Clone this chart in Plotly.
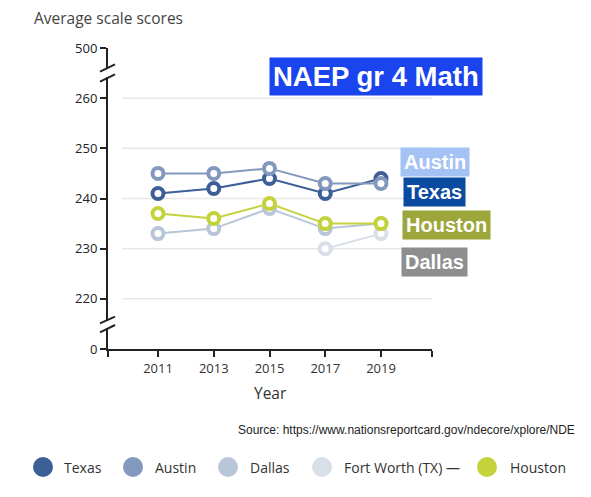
import plotly.graph_objects as go

W, H = 591, 497

years = [2011, 2013, 2015, 2017, 2019]
series_names = ["Texas", "Austin", "Dallas", "Fort Worth (TX)", "Houston"]
texas = [241, 242, 244, 241, 244]
austin = [245, 245, 246, 243, 243]
dallas = [233, 234, 238, 234, 235]
fort_worth = [None, None, None, 230, 233]
houston = [237, 236, 239, 235, 235]
colors = {"Texas": "#3d5f97", "Austin": "#8298bd", "Dallas": "#b9c6d9",
          "Fort Worth (TX)": "#d9dfe9", "Houston": "#c4d23c"}
values = {"Texas": texas, "Austin": austin, "Dallas": dallas,
          "Fort Worth (TX)": fort_worth, "Houston": houston}

# y axis: broken scale, 0 and 500 placed one step beyond the visible range
y_tickvals = [210, 220, 230, 240, 250, 260, 270]
y_ticktext = ["0", "220", "230", "240", "250", "260", "500"]
grid_vals = [220, 230, 240, 250, 260]
x_range = [2009.206, 2020.83]
x_tickvals = [x_range[0]] + years + [x_range[1]]
x_ticktext = [""] + [str(y) for y in years] + [""]

legend_labels = ["Texas", "Austin", "Dallas", "Fort Worth (TX) \u2014", "Houston"]
legend_cx = [43, 133, 228, 322, 487]
legend_tx = [62, 153, 248, 342, 508]

tag_labels = ["Austin", "Texas", "Houston", "Dallas"]
tag_bg = ["#a4c2f4", "#0b4aa1", "#9ca63a", "#8e8e8e"]
tag_x = [400, 403, 402, 401]
tag_y = [161.5, 192, 225, 261.5]


def px(x):
    return x / W


def py(y):
    return 1 - y / H


fig = go.Figure()

draw_order = ["Fort Worth (TX)", "Dallas", "Texas", "Austin", "Houston"]
for name in draw_order:
    c = colors[name]
    fig.add_trace(go.Scatter(
        x=years, y=values[name], name=name, mode="lines+markers",
        line=dict(color=c, width=2),
        marker=dict(symbol="circle", size=11, color="white",
                    line=dict(color=c, width=4)),
        connectgaps=False, showlegend=False, xaxis="x", yaxis="y"))

# manual legend circles on an overlay pixel axis
fig.add_trace(go.Scatter(
    x=legend_cx, y=[467] * len(legend_cx), mode="markers",
    marker=dict(size=20, color=[colors[n] for n in series_names]),
    showlegend=False, hoverinfo="skip", xaxis="x2", yaxis="y2"))

shapes = []
for g in grid_vals:
    shapes.append(dict(type="line", xref="paper", yref="y", x0=px(122), x1=px(432),
                       y0=g, y1=g, line=dict(color="#e8e8e8", width=1.5), layer="below"))

# axis breaks
for (g0, s1, s2) in [((69, 77), (71.7, 64.3), (81.7, 74.3)),
                     ((321, 328), (323.3, 316.7), (332.3, 325))]:
    shapes.append(dict(type="rect", xref="paper", yref="paper",
                       x0=px(104), x1=px(111), y0=py(g0[1]), y1=py(g0[0]),
                       fillcolor="white", line=dict(width=0)))
    for s in (s1, s2):
        shapes.append(dict(type="line", xref="paper", yref="paper",
                           x0=px(100), x1=px(115), y0=py(s[0]), y1=py(s[1]),
                           line=dict(color="#222", width=2)))

annotations = [
    dict(text="Average scale scores", x=px(32), y=py(18), xref="paper", yref="paper",
         xanchor="left", yanchor="middle", showarrow=False,
         font=dict(family="Open Sans", size=15.5, color="#444")),
    dict(text="Year", x=px(270), y=py(393), xref="paper", yref="paper",
         xanchor="center", yanchor="middle", showarrow=False,
         font=dict(family="Open Sans", size=15.5, color="#333")),
    dict(text="<b>NAEP gr 4 Math</b>", x=px(375.5), y=py(76), xref="paper", yref="paper",
         xanchor="center", yanchor="middle", showarrow=False, bgcolor="#1a44ee",
         borderpad=3, font=dict(family="Liberation Sans, Arial", size=27.5, color="white")),
    dict(text="Source: https://www.nationsreportcard.gov/ndecore/xplore/NDE",
         x=px(577), y=py(430), xref="paper", yref="paper", xanchor="right",
         yanchor="middle", showarrow=False,
         font=dict(family="Liberation Sans, Arial", size=12, color="#222")),
]
for t, bg, x, y in zip(tag_labels, tag_bg, tag_x, tag_y):
    annotations.append(dict(text="<b>" + t + "</b>", x=px(x), y=py(y), xref="paper",
                            yref="paper", xanchor="left", yanchor="middle",
                            showarrow=False, bgcolor=bg, borderpad=3,
                            font=dict(family="Liberation Sans, Arial", size=20, color="white")))
for t, x in zip(legend_labels, legend_tx):
    annotations.append(dict(text=t, x=px(x), y=py(467), xref="paper", yref="paper",
                            xanchor="left", yanchor="middle", showarrow=False,
                            font=dict(family="Open Sans", size=14, color="#333")))

fig.update_layout(
    width=W, height=H, margin=dict(l=0, r=0, t=0, b=0, pad=0, autoexpand=False),
    paper_bgcolor="white", plot_bgcolor="rgba(0,0,0,0)",
    showlegend=False,
    xaxis=dict(domain=[px(108), px(432)], range=x_range, tickmode="array",
               tickvals=x_tickvals, ticktext=x_ticktext, showgrid=False,
               zeroline=False, showline=True, linecolor="#222", linewidth=2,
               ticks="outside", ticklen=6, tickwidth=2, tickcolor="#222", automargin=False,
               tickfont=dict(family="Open Sans", size=13, color="#333")),
    yaxis=dict(domain=[py(349), py(48)], range=[210, 270], tickmode="array",
               tickvals=y_tickvals, ticktext=y_ticktext, showgrid=False,
               zeroline=False, showline=True, linecolor="#222", linewidth=2,
               ticks="outside", ticklen=6, tickwidth=2, tickcolor="#222", automargin=False,
               tickfont=dict(family="Open Sans", size=13, color="#222")),
    xaxis2=dict(domain=[0, 1], range=[0, W], visible=False, anchor="y2", automargin=False),
    yaxis2=dict(domain=[0, 1], range=[H, 0], visible=False, anchor="x2", automargin=False),
    shapes=shapes, annotations=annotations,
)

fig.write_html("out.html")
